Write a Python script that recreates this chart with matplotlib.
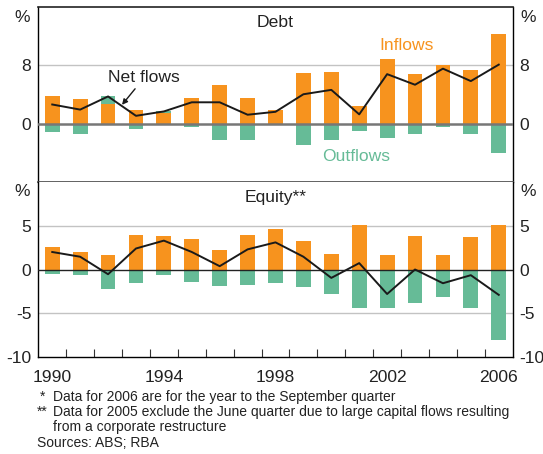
import matplotlib
matplotlib.use("Agg")
import matplotlib.pyplot as plt
import numpy as np

plt.rcParams['font.family'] = ['Liberation Sans', 'DejaVu Sans']

years = list(range(1990, 2007))

debt_inflows = [3.7, 3.3, 2.6, 1.8, 1.4, 3.45, 5.2, 3.45, 1.8, 6.9, 7.0, 2.35, 8.8, 6.75, 8.0, 7.3, 12.3]
debt_outflows = [-1.2, -1.5, 1.1, -0.8, 0.3, -0.5, -2.3, -2.3, -0.2, -3.0, -2.3, -1.06, -2.0, -1.5, -0.5, -1.5, -4.1]
debt_net = [2.6, 1.9, 3.7, 1.05, 1.65, 2.9, 2.9, 1.2, 1.6, 4.0, 4.6, 1.25, 6.75, 5.3, 7.5, 5.8, 8.05]

equity_inflows = [2.6, 2.0, 1.65, 3.95, 3.83, 3.5, 2.2, 3.95, 4.6, 3.26, 1.76, 5.1, 1.65, 3.83, 1.65, 3.7, 5.1]
equity_outflows = [-0.54, -0.65, -2.2, -1.57, -0.65, -1.46, -1.9, -1.8, -1.57, -2.0, -2.8, -4.4, -4.4, -3.83, -3.14, -4.4, -8.1]
equity_net = [2.0, 1.46, -0.54, 2.4, 3.3, 2.0, 0.38, 2.3, 3.1, 1.46, -0.96, 0.73, -2.8, 0.0, -1.57, -0.65, -2.9]

year_labels = ['1990', '1994', '1998', '2002', '2006']

ORANGE = '#F7931E'
GREEN = '#66BB97'
GRID = '#C3C3C3'
FS = 12.6
TXT = '#222222'

W, H = 543, 454
fig = plt.figure(figsize=(W / 100, H / 100), dpi=100)

def frac_rect(x0, y0, x1, y1):
    return [x0 / W, 1 - y1 / H, (x1 - x0) / W, (y1 - y0) / H]

ax1 = fig.add_axes(frac_rect(38.3, 6.5, 512.7, 182))
ax2 = fig.add_axes(frac_rect(38.3, 182, 512.7, 357))

x = np.array(years, dtype=float)
bw = 0.53

def draw_panel(ax, inflows, outflows, net, ylim, grid_vals, zero_color, zero_lw):
    inflows = np.array(inflows)
    outflows = np.array(outflows)
    ax.set_xlim(1989.5, 2006.5)
    ax.set_ylim(*ylim)
    for g in grid_vals:
        ax.axhline(g, color=GRID, lw=1.0, zorder=0)
    ax.bar(x, inflows, width=bw, color=ORANGE, zorder=2, linewidth=0)
    bottoms = np.where(outflows > 0, inflows, 0)
    ax.bar(x, outflows, width=bw, bottom=bottoms, color=GREEN, zorder=2, linewidth=0)
    ax.axhline(0, color=zero_color, lw=zero_lw, zorder=3)
    ax.plot(x, net, color='#1a1a1a', lw=1.4, zorder=4)
    for s in ['left', 'right']:
        ax.spines[s].set_linewidth(1.0)
        ax.spines[s].set_color('black')
    ax.tick_params(axis='y', length=0, labelleft=True, labelright=True,
                   labelsize=FS, pad=5, labelcolor=TXT)

# Debt panel
draw_panel(ax1, debt_inflows, debt_outflows, debt_net, (-8, 16), [8], '#777777', 1.8)
ax1.set_yticks([0, 8])
ax1.set_yticklabels(['0', '8'])
ax1.set_xticks([])
ax1.spines['top'].set_linewidth(1.2)
ax1.spines['top'].set_color('#222222')
ax1.spines['bottom'].set_linewidth(1.3)
ax1.spines['bottom'].set_color('#555555')
ax1.text(0.5, 0.91, 'Debt', transform=ax1.transAxes, ha='center', va='center', fontsize=FS, color=TXT)
ax1.text(-0.017, 0.94, '%', transform=ax1.transAxes, ha='right', va='center', fontsize=FS, color=TXT)
ax1.text(1.017, 0.94, '%', transform=ax1.transAxes, ha='left', va='center', fontsize=FS, color=TXT)
ax1.text(2002.7, 10.6, 'Inflows', color=ORANGE, ha='center', va='center', fontsize=FS)
ax1.text(2000.9, -4.5, 'Outflows', color=GREEN, ha='center', va='center', fontsize=FS)
ax1.annotate('Net flows', xy=(1992.5, 2.55), xytext=(1993.3, 6.3),
             ha='center', va='center', fontsize=FS, color=TXT,
             arrowprops=dict(arrowstyle='-|>', color='#1a1a1a', lw=1.0,
                             mutation_scale=8, shrinkA=1, shrinkB=0))

# Equity panel
draw_panel(ax2, equity_inflows, equity_outflows, equity_net, (-10, 10), [5, -5], '#222222', 1.0)
ax2.set_yticks([-10, -5, 0, 5])
ax2.set_yticklabels(['-10', '-5', '0', '5'])
ax2.spines['top'].set_visible(False)
ax2.spines['bottom'].set_linewidth(1.0)
ax2.spines['bottom'].set_color('black')
ax2.text(0.5, 0.91, 'Equity**', transform=ax2.transAxes, ha='center', va='center', fontsize=FS, color=TXT)
ax2.text(-0.017, 0.945, '%', transform=ax2.transAxes, ha='right', va='center', fontsize=FS, color=TXT)
ax2.text(1.017, 0.945, '%', transform=ax2.transAxes, ha='left', va='center', fontsize=FS, color=TXT)
ax2.set_xticks([int(v) for v in year_labels])
ax2.set_xticklabels(year_labels)
ax2.set_xticks(np.arange(1990.5, 2006, 1.0), minor=True)
ax2.tick_params(axis='x', which='major', length=0, labelsize=FS, pad=9, labelcolor=TXT)
ax2.tick_params(axis='x', which='minor', direction='in', length=6, width=0.8, color='#333333')

# Footnotes
FN = 10.0
def ftext(px, py, s):
    fig.text(px / W, 1 - py / H, s, ha='left', va='center', fontsize=FN, color=TXT)

ftext(40, 397, '*')
ftext(53, 397, 'Data for 2006 are for the year to the September quarter')
ftext(37, 412, '**')
ftext(53, 412, 'Data for 2005 exclude the June quarter due to large capital flows resulting')
ftext(53, 427, 'from a corporate restructure')
ftext(37, 443, 'Sources: ABS; RBA')

fig.savefig('out.png', dpi=100)
